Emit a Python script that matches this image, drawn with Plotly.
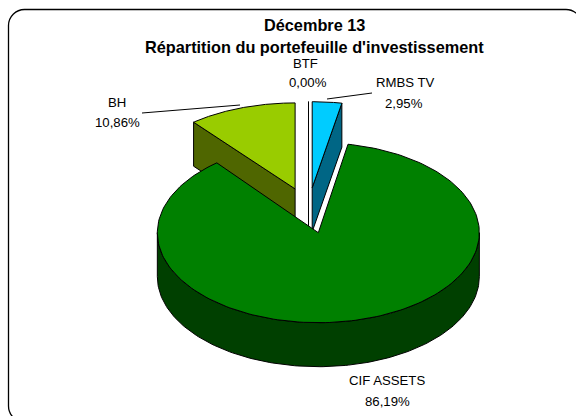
import numpy as np
import plotly.graph_objects as go

categories = ["BTF", "RMBS TV", "CIF ASSETS", "BH"]
values = [0.00, 2.95, 86.19, 10.86]
value_labels = ["0,00%", "2,95%", "86,19%", "10,86%"]
top_colors = ["#FFFFFF", "#00CCFF", "#008000", "#99CC00"]
side_colors = ["#FFFFFF", "#006685", "#004000", "#4F6600"]
title_lines = ["Décembre 13", "Répartition du portefeuille d'investissement"]

CX, CY, RX, DEPTH, PULL, PULL_Y = 308.5, 210.5, 161.0, 44.0, 40.0, 0.5725
RY_BACK, RY_FRONT = 86.0, 90.0
FONT = "Liberation Sans"

label_pos = {"BTF": (305, 63, 308, 82), "RMBS TV": (405, 82, 404, 103),
             "CIF ASSETS": (387, 380, 387, 401), "BH": (117, 102, 117, 122)}
leaders = {"RMBS TV": ([327, 372], [99, 93]), "BH": ([142, 240], [113, 105])}

fig = go.Figure()


def poly(xs, ys, fill):
    fig.add_trace(go.Scatter(x=xs, y=ys, mode="lines", fill="toself", fillcolor=fill,
                             line=dict(color="black", width=1), hoverinfo="skip", showlegend=False))


start = 0.0
slices = []
for name, val, top, side in zip(categories, values, top_colors, side_colors):
    sweep = val / 100 * 2 * np.pi
    mid = start + sweep / 2
    ax = CX + PULL * np.sin(mid)
    ay = CY - PULL * PULL_Y * np.cos(mid)
    slices.append((name, start, start + sweep, ax, ay, top, side))
    start += sweep

# back-to-front: BH, BTF, RMBS TV, CIF ASSETS
for idx in [3, 0, 1, 2]:
    name, a0, a1, ax, ay, top, side = slices[idx]
    ry = RY_FRONT if name == "CIF ASSETS" else RY_BACK
    px = lambda t: ax + RX * np.sin(t)
    py = lambda t: ay - ry * np.cos(t)
    if name == "BH":
        poly([px(a0), ax, ax, px(a0), px(a0)],
             [py(a0), ay, ay + DEPTH, py(a0) + DEPTH, py(a0)], side)
    elif name in ("RMBS TV", "BTF"):
        poly([px(a1), ax, ax, px(a1), px(a1)],
             [py(a1), ay, ay + DEPTH, py(a1) + DEPTH, py(a1)], side)
    else:
        t = np.linspace(np.pi / 2, 3 * np.pi / 2, 160)
        xs = np.concatenate([px(t), px(t[::-1])])
        ys = np.concatenate([py(t) + DEPTH, py(t[::-1])])
        poly(list(xs) + [xs[0]], list(ys) + [ys[0]], side)
    if a1 > a0:
        t = np.linspace(a0, a1, 200)
        poly([ax] + list(px(t)) + [ax], [ay] + list(py(t)) + [ay], top)

for name, (lx, ly) in leaders.items():
    fig.add_trace(go.Scatter(x=lx, y=ly, mode="lines", line=dict(color="black", width=1),
                             hoverinfo="skip", showlegend=False))

annos = []
for name, lab in zip(categories, value_labels):
    x1, y1, x2, y2 = label_pos[name]
    annos.append(dict(x=x1, y=y1, text=name, showarrow=False, xanchor="center", yanchor="middle",
                      font=dict(family=FONT, size=13.2, color="black")))
    annos.append(dict(x=x2, y=y2, text=lab, showarrow=False, xanchor="center", yanchor="middle",
                      font=dict(family=FONT, size=13.2, color="black")))
for line, y in zip(title_lines, [25, 47]):
    annos.append(dict(x=314.5, y=y, text=f"<b>{line}</b>", showarrow=False, xanchor="center", yanchor="middle",
                      font=dict(family=FONT, size=16.3, color="black")))

L, T, R_, B, r = 8.5, 9.5, 582, 422, 16
c = r * 0.45
frame = (f"M {L+r} {T} L {R_-r} {T} C {R_-c} {T} {R_} {T+c} {R_} {T+r} L {R_} {B-r} "
         f"C {R_} {B-c} {R_-c} {B} {R_-r} {B} L {L+r} {B} C {L+c} {B} {L} {B-c} {L} {B-r} "
         f"L {L} {T+r} C {L} {T+c} {L+c} {T} {L+r} {T} Z")

fig.update_layout(
    width=576, height=416, margin=dict(l=0, r=0, t=0, b=0), autosize=False,
    paper_bgcolor="white", plot_bgcolor="white", showlegend=False,
    xaxis=dict(range=[0, 576], visible=False, fixedrange=True),
    yaxis=dict(range=[416, 0], visible=False, fixedrange=True),
    annotations=annos,
    shapes=[dict(type="path", path=frame, line=dict(color="black", width=1.3), layer="below")],
)
fig.write_html("out.html", config=dict(displayModeBar=False),
               post_script="document.body.style.margin='0';document.documentElement.style.overflow='hidden';")
